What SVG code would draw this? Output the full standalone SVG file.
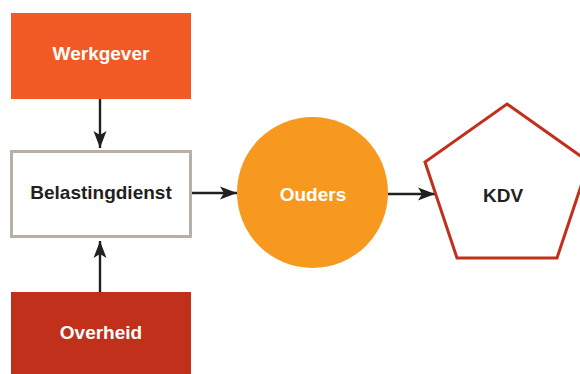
<svg xmlns="http://www.w3.org/2000/svg" width="580" height="374" viewBox="0 0 580 374">
  <style>
    .label { font-family: "Liberation Sans", Arial, Helvetica, sans-serif; font-weight: bold; font-size: 19px; text-anchor: middle; }
    .light { fill: #ffffff; }
    .dark { fill: #231f20; }
    .edge { stroke: #231f20; stroke-width: 2.4; fill: none; }
  </style>
  <defs>
    <marker id="arrow" markerUnits="userSpaceOnUse" markerWidth="17" markerHeight="14" viewBox="0 0 17 14" refX="17" refY="7" orient="auto">
      <path d="M0,0.5 L17,7 L0,13.5 L4,7 Z" fill="#231f20"/>
    </marker>
  </defs>

  <!-- connectors -->
  <g id="connectors">
    <line class="edge" x1="100" y1="99" x2="100" y2="148" marker-end="url(#arrow)"/>
    <line class="edge" x1="100" y1="292" x2="100" y2="241" marker-end="url(#arrow)"/>
    <line class="edge" x1="192" y1="193" x2="237" y2="193" marker-end="url(#arrow)"/>
    <line class="edge" x1="388" y1="194" x2="435" y2="194" marker-end="url(#arrow)"/>
  </g>

  <g id="werkgever">
    <rect x="11" y="13" width="180" height="86" fill="#f15a24"/>
    <text class="label light" x="101" y="60">Werkgever</text>
  </g>

  <g id="belastingdienst">
    <rect x="11.5" y="151.5" width="179" height="85" fill="#ffffff" stroke="#b8b0a6" stroke-width="3"/>
    <text class="label dark" x="101" y="199">Belastingdienst</text>
  </g>

  <g id="overheid">
    <rect x="11" y="292" width="180" height="82" fill="#c1301a"/>
    <text class="label light" x="101" y="339">Overheid</text>
  </g>

  <g id="ouders">
    <circle cx="312.5" cy="192.5" r="75.5" fill="#f7991f"/>
    <text class="label light" x="313" y="201">Ouders</text>
  </g>

  <g id="kdv">
    <polygon points="507,104 589,162 557,258 457,258 425,162" fill="#ffffff" stroke="#c1301a" stroke-width="3"/>
    <text class="label dark" x="503" y="202">KDV</text>
  </g>
</svg>
